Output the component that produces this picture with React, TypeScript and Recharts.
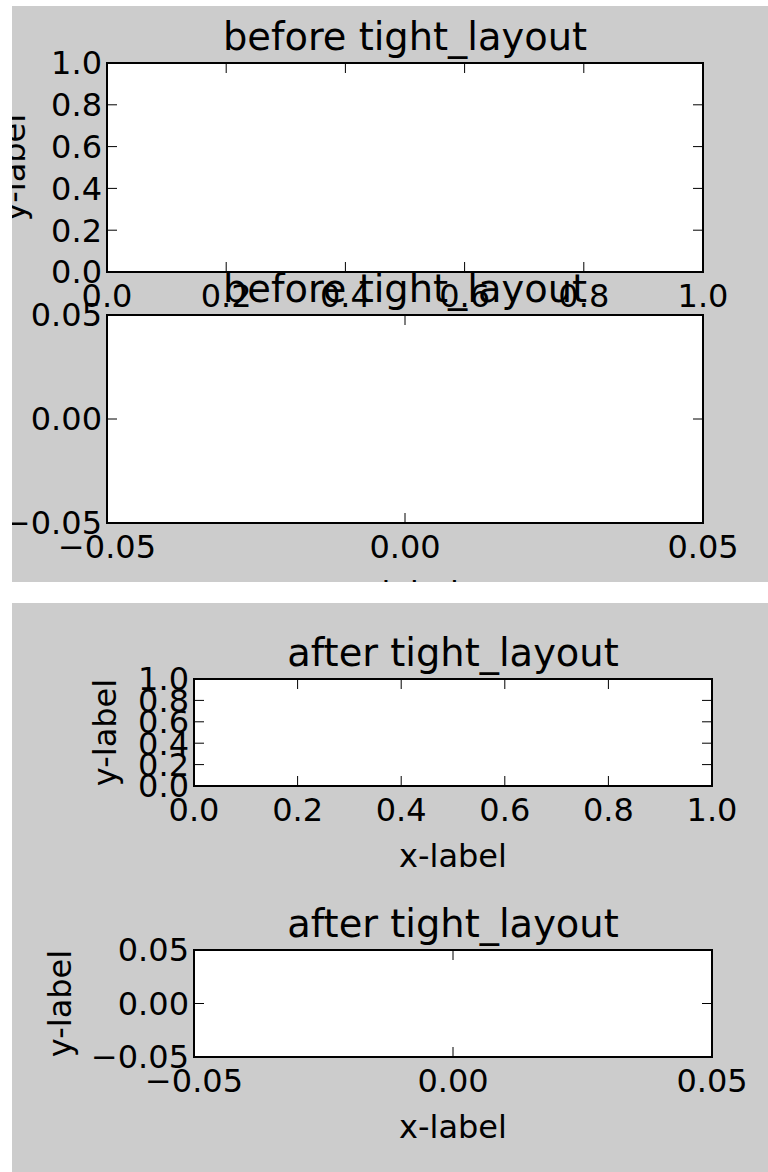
import { CartesianGrid, LineChart, XAxis, YAxis } from 'recharts'
import type { ReactNode } from 'react'

// tick values / domains for the two kinds of empty axes
const unitTicks = [0, 0.2, 0.4, 0.6, 0.8, 1.0]
const unitDomain = [0, 1]
const smallTicks = [-0.05, 0, 0.05]
const smallDomain = [-0.05, 0.05]

const beforeTitle = 'before tight_layout'
const afterTitle = 'after tight_layout'
const xLabel = 'x-label'
const yLabel = 'y-label'

const FONT = 'DejaVu Sans'
const spine = { stroke: '#000', strokeWidth: 2, strokeLinecap: 'square' as const }
const tickLine = { stroke: '#000', strokeWidth: 1 }
const tickText = { fill: '#000', fontSize: 32, fontFamily: FONT }
// axes need a non-zero thickness or recharts skips drawing them
const AX = 1

// top / right axes only carry tick marks, no labels
const noLabel = () => <g />

type Box = { left: number; top: number; width: number; height: number }

type PanelProps = {
  figW: number
  figH: number
  box: Box
  ticks: number[]
  domain: number[]
  digits: number
  title: string
  yLabelOffset: number
}

function Panel({ figW, figH, box, ticks, domain, digits, title, yLabelOffset }: PanelProps) {
  const fmt = (v: number) => v.toFixed(digits).replace('-', '\u2212')
  const margin = {
    left: box.left - AX,
    top: box.top - AX,
    right: figW - box.left - box.width - AX,
    bottom: figH - box.top - box.height - AX,
  }
  const shared = {
    type: 'number' as const,
    domain,
    ticks,
    allowDataOverflow: true,
    interval: 0 as const,
    tickSize: -10,
    axisLine: spine,
    tickLine,
  }

  return (
    <div style={{ position: 'absolute', left: 0, top: 0 }}>
      <LineChart width={figW} height={figH} data={[]} margin={margin}>
        <CartesianGrid fill="#fff" horizontal={false} vertical={false} />
        <XAxis
          {...shared}
          dataKey="x"
          height={AX}
          tickMargin={22}
          tickFormatter={fmt}
          tick={tickText}
          label={{ value: xLabel, position: 'bottom', offset: 57, fill: '#000', fontSize: 32, fontFamily: FONT }}
        />
        <XAxis
          {...shared}
          xAxisId="top"
          orientation="top"
          dataKey="x"
          height={AX}
          tick={noLabel}
          label={{ value: title, position: 'top', offset: 12, fill: '#000', fontSize: 38.4, fontFamily: FONT }}
        />
        <YAxis
          {...shared}
          dataKey="y"
          width={AX}
          tickMargin={15}
          tickFormatter={fmt}
          tick={tickText}
          label={{
            value: yLabel,
            position: 'left',
            angle: -90,
            offset: yLabelOffset - AX,
            textAnchor: 'middle',
            fill: '#000',
            fontSize: 32,
            fontFamily: FONT,
          }}
        />
        <YAxis {...shared} yAxisId="right" orientation="right" dataKey="y" width={AX} tick={noLabel} />
      </LineChart>
    </div>
  )
}

function Figure({ top, height, children }: { top: number; height: number; children: ReactNode }) {
  return (
    <div
      style={{
        position: 'absolute',
        left: 12,
        top,
        width: 756,
        height,
        background: '#cccccc',
        overflow: 'hidden',
      }}
    >
      {children}
    </div>
  )
}

export default function App() {
  return (
    <div style={{ position: 'absolute', left: 0, top: 0, width: 768, height: 1172, background: '#fff' }}>
      <Figure top={6} height={576}>
        <Panel
          figW={756}
          figH={576}
          box={{ left: 95, top: 57, width: 596, height: 209 }}
          ticks={unitTicks}
          domain={unitDomain}
          digits={1}
          title={beforeTitle}
          yLabelOffset={93}
        />
        <Panel
          figW={756}
          figH={576}
          box={{ left: 95, top: 309, width: 596, height: 208 }}
          ticks={smallTicks}
          domain={smallDomain}
          digits={2}
          title={beforeTitle}
          yLabelOffset={138}
        />
      </Figure>
      <Figure top={603} height={569}>
        <Panel
          figW={756}
          figH={569}
          box={{ left: 182, top: 76, width: 518, height: 107 }}
          ticks={unitTicks}
          domain={unitDomain}
          digits={1}
          title={afterTitle}
          yLabelOffset={89}
        />
        <Panel
          figW={756}
          figH={569}
          box={{ left: 182, top: 347, width: 518, height: 107 }}
          ticks={smallTicks}
          domain={smallDomain}
          digits={2}
          title={afterTitle}
          yLabelOffset={134}
        />
      </Figure>
    </div>
  )
}
